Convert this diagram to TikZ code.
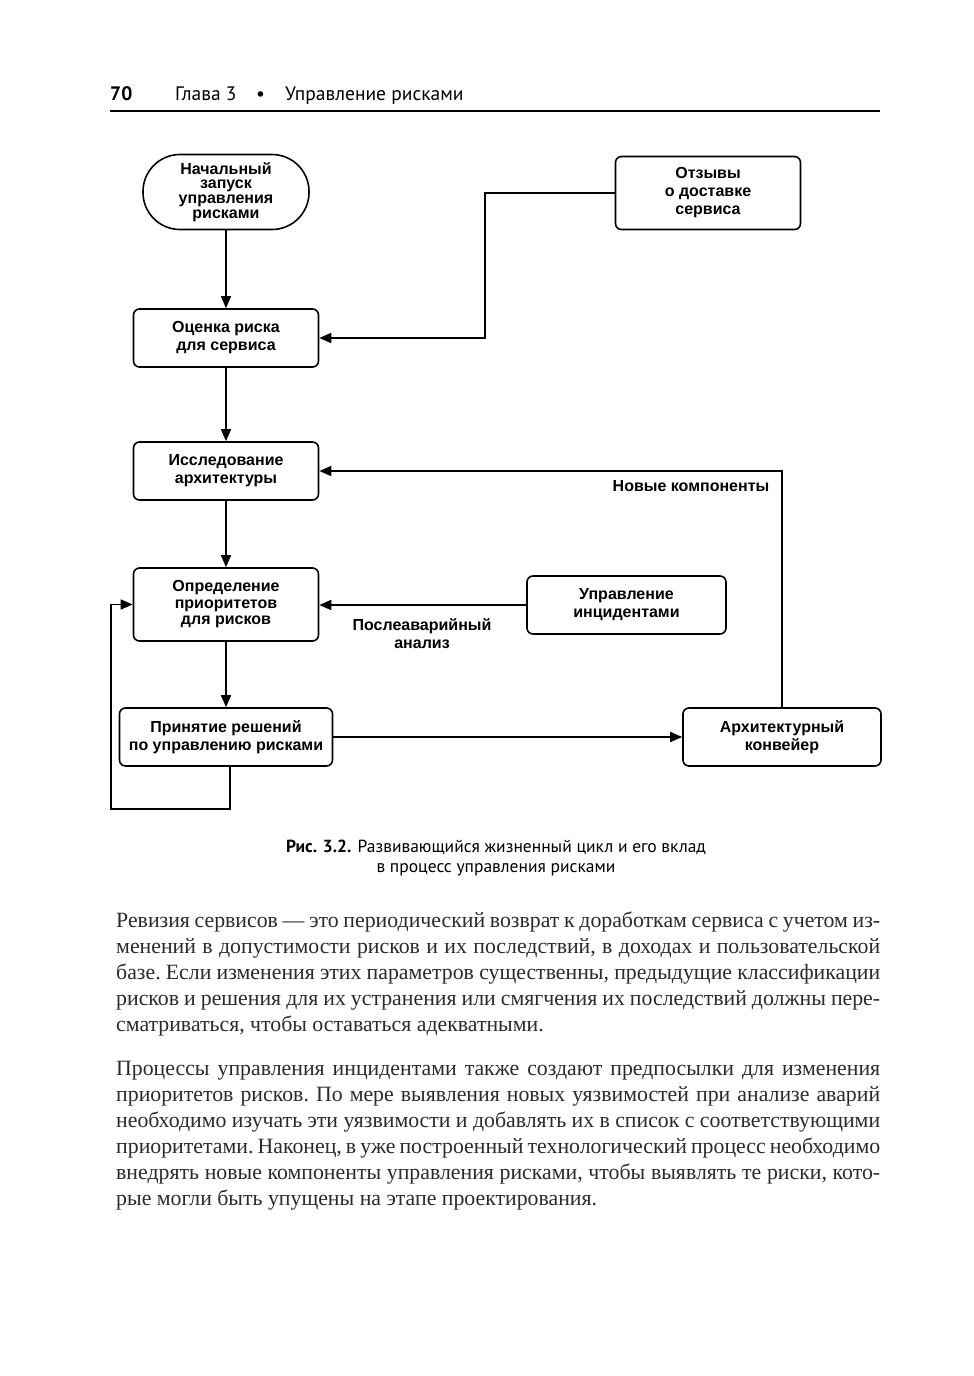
\documentclass[tikz,border=0pt]{standalone}
\usepackage{fontspec}
\setmainfont{Liberation Serif}
\newfontfamily\diagfam{Liberation Sans}
\newfontfamily\hdrfam{PT Sans}
\usetikzlibrary{arrows.meta}
\definecolor{bodyc}{HTML}{2B2B2B}
\newcommand{\dfont}{\diagfam\bfseries\fontsize{16}{18}\selectfont}
\begin{document}
\begin{tikzpicture}[x=1pt,y=-1pt,
  box/.style={draw, line width=1.6pt, rounded corners=6pt, minimum width=185pt, minimum height=58pt, align=center, font=\dfont, inner sep=2pt},
  lbl/.style={align=center, font=\dfont, inner sep=0pt},
  arr/.style={line width=1.6pt, -{Triangle[length=12pt,width=10pt]}},
  ln/.style={line width=1.6pt}]
\useasboundingbox[fill=white] (0,0) rectangle (974,1376);

% header
\node[anchor=base west, inner sep=0, font=\hdrfam\bfseries\fontsize{19.5}{22}\selectfont] (pg) at (110,100) {70};
\node[anchor=base west, inner sep=0, font=\hdrfam\fontsize{19.5}{22}\selectfont] (ch) at (175,100) {Глава 3};
\node[anchor=base west, inner sep=0, font=\hdrfam\fontsize{19.5}{22}\selectfont] (bul) at (256,100) {•};
\node[anchor=base west, inner sep=0, font=\hdrfam\fontsize{19.5}{22}\selectfont] (ttl) at (285,100) {Управление рисками};
\draw[line width=2.2pt] (110,111) -- (880,111);

% nodes
\node[box, rounded corners=37pt, minimum width=166pt, minimum height=75pt, font=\diagfam\bfseries\fontsize{16}{14.7}\selectfont] (start) at (226,192) {Начальный\\запуск\\управления\\рисками};
\node[box, minimum height=73pt] (otz) at (708,193) {Отзывы\\о доставке\\сервиса};
\node[box] (ocen) at (226,338) {Оценка риска\\для сервиса};
\node[box] (issl) at (226,471) {Исследование\\архитектуры};
\node[box, minimum height=73pt, font=\diagfam\bfseries\fontsize{16}{16.5}\selectfont] (opr) at (226,604.5) {Определение\\приоритетов\\для рисков};
\node[box, minimum width=199pt] (upr) at (626.5,605) {Управление\\инцидентами};
\node[box, minimum width=213pt] (prin) at (226,737) {Принятие решений\\по управлению рисками};
\node[box, minimum width=198pt] (arch) at (782,737) {Архитектурный\\конвейер};

% labels
\node[lbl] (lnew) at (691,486) {Новые компоненты};
\node[lbl] (lpost) at (422,634) {Послеаварийный\\анализ};

% connectors
\coordinate (j1) at (485,193);
\coordinate (q1) at (230,809);
\coordinate (q2) at (111,809);
\draw[arr] (start) -- (ocen);
\draw[arr] (otz.west) -- (j1) |- (ocen.east);
\draw[arr] (ocen) -- (issl);
\draw[arr] (arch.north) |- (issl.east);
\draw[arr] (issl) -- (opr);
\draw[arr] (upr.west) -- (upr.west -| opr.east);
\draw[arr] (opr) -- (prin);
\draw[arr] (prin.east) -- (prin.east -| arch.west);
\draw[arr] (prin.south -| q1) -- (q1) -- (q2) |- (opr.west);

% caption
\node[align=center, inner sep=0, font=\hdrfam\fontsize{17.5}{20}\selectfont] (cap) at (496,858) {\textbf{Рис. 3.2.} Развивающийся жизненный цикл и его вклад\\в процесс управления рисками};

% body text
\node[anchor=base west, inner sep=0, text=bodyc, font=\fontsize{21.8}{26}\selectfont] (p1) at (116,927) {\parbox[t]{764pt}{\frenchspacing\baselineskip=26pt
\hbox to\hsize{Ревизия сервисов — это периодический возврат к доработкам сервиса с учетом из-}
\hbox to\hsize{менений в допустимости рисков и их последствий, в доходах и пользовательской}
\hbox to\hsize{базе. Если изменения этих параметров существенны, предыдущие классификации}
\hbox to\hsize{рисков и решения для их устранения или смягчения их последствий должны пере-}
\hbox{сматриваться, чтобы оставаться адекватными.}}};
\node[anchor=base west, inner sep=0, text=bodyc, font=\fontsize{21.8}{26}\selectfont] (p2) at (116,1075) {\parbox[t]{764pt}{\frenchspacing\baselineskip=26pt
\hbox to\hsize{Процессы управления инцидентами также создают предпосылки для изменения}
\hbox to\hsize{приоритетов рисков. По мере выявления новых уязвимостей при анализе аварий}
\hbox to\hsize{необходимо изучать эти уязвимости и добавлять их в список с соответствующими}
\hbox to\hsize{приоритетами. Наконец, в уже построенный технологический процесс необходимо}
\hbox to\hsize{внедрять новые компоненты управления рисками, чтобы выявлять те риски, кото-}
\hbox{рые могли быть упущены на этапе проектирования.}}};
\end{tikzpicture}
\end{document}
